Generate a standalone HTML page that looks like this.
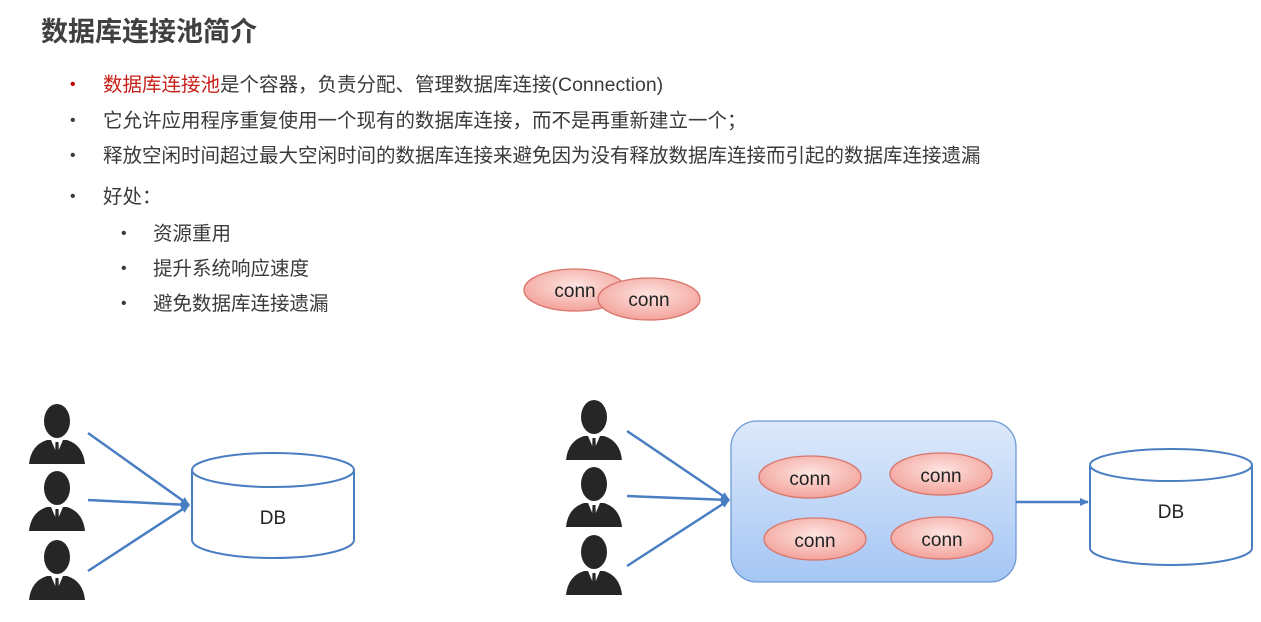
<!DOCTYPE html>
<html><head><meta charset="utf-8"><style>
html,body{margin:0;padding:0;background:#fff;}
body{width:1261px;height:622px;position:relative;overflow:hidden;font-family:"Liberation Sans","Noto Sans CJK SC",sans-serif;color:#3a3a3a;}
.t{position:absolute;white-space:nowrap;}
.title{left:41px;top:10px;font-size:27px;font-weight:bold;color:#404040;}
.b{font-size:19.5px;}
.dot{position:absolute;font-size:16px;}
svg{position:absolute;left:0;top:0;}
</style></head><body>
<div class="t title">数据库连接池简介</div>
<div class="t dot" style="left:70px;top:76px;color:#c00000">•</div>
<div class="t b" style="left:103px;top:68px"><span style="color:#c8201a">数据库连接池</span>是个容器，负责分配、管理数据库连接(Connection)</div>
<div class="t dot" style="left:70px;top:112px">•</div>
<div class="t b" style="left:103px;top:104px">它允许应用程序重复使用一个现有的数据库连接，而不是再重新建立一个；</div>
<div class="t dot" style="left:70px;top:147px">•</div>
<div class="t b" style="left:103px;top:139px">释放空闲时间超过最大空闲时间的数据库连接来避免因为没有释放数据库连接而引起的数据库连接遗漏</div>
<div class="t dot" style="left:70px;top:188px">•</div>
<div class="t b" style="left:103px;top:180px">好处：</div>
<div class="t dot" style="left:121px;top:225px">•</div>
<div class="t b" style="left:153px;top:217px">资源重用</div>
<div class="t dot" style="left:121px;top:260px">•</div>
<div class="t b" style="left:153px;top:252px">提升系统响应速度</div>
<div class="t dot" style="left:121px;top:295px">•</div>
<div class="t b" style="left:153px;top:287px">避免数据库连接遗漏</div>
<svg width="1261" height="622" viewBox="0 0 1261 622">
<defs>
<radialGradient id="pink" cx="50%" cy="40%" r="60%"><stop offset="0" stop-color="#fde4e1"/><stop offset="1" stop-color="#f3a39b"/></radialGradient>
<linearGradient id="blue" x1="0" y1="0" x2="0" y2="1"><stop offset="0" stop-color="#dde9fb"/><stop offset="1" stop-color="#a5c6f4"/></linearGradient>
<marker id="ar" markerWidth="10" markerHeight="10" refX="8" refY="5" orient="auto" markerUnits="userSpaceOnUse"><path d="M0,1 L9,5 L0,9 z" fill="#4a7ec2"/></marker>
<g id="p">
<ellipse cx="0" cy="0" rx="13" ry="17" fill="#262626"/>
<path d="M-10,19 L10,19 Q26,24 28,43 L-28,43 Q-26,24 -10,19 Z" fill="#262626"/>
<path d="M-6,19 L0,33 L6,19 Z" fill="#fff"/>
<path d="M-1.5,21 L1.5,21 L2,36 L0,39 L-2,36 Z" fill="#262626"/>
</g>
<g id="c">
<ellipse cx="0" cy="0" rx="51" ry="21" fill="url(#pink)" stroke="#d9766c" stroke-width="1.3"/>
</g>
</defs>
<g font-family="Liberation Sans, sans-serif" font-size="19" fill="#222" text-anchor="middle">
<use href="#c" x="575" y="290"/><text x="575" y="297">conn</text>
<use href="#c" x="649" y="299"/><text x="649" y="306">conn</text>
</g>
<use href="#p" x="57" y="421"/><use href="#p" x="57" y="488"/><use href="#p" x="57" y="557"/>
<g stroke="#4a7ec2" stroke-width="2.5" fill="none">
<line x1="88" y1="433" x2="189" y2="505" marker-end="url(#ar)"/>
<line x1="88" y1="500" x2="189" y2="505" marker-end="url(#ar)"/>
<line x1="88" y1="571" x2="189" y2="505" marker-end="url(#ar)"/>
</g>
<g stroke="#4a7ec2" stroke-width="2" fill="#fff">
<path d="M192,470 L192,540 A81,18 0 0 0 354,540 L354,470"/>
<ellipse cx="273" cy="470" rx="81" ry="17"/>
</g>
<text x="273" y="524" font-family="Liberation Sans, sans-serif" font-size="19" text-anchor="middle" fill="#222">DB</text>
<use href="#p" x="594" y="417"/><use href="#p" x="594" y="484"/><use href="#p" x="594" y="552"/>
<g stroke="#4a7ec2" stroke-width="2.5" fill="none">
<line x1="627" y1="431" x2="729" y2="500" marker-end="url(#ar)"/>
<line x1="627" y1="496" x2="729" y2="500" marker-end="url(#ar)"/>
<line x1="627" y1="566" x2="729" y2="500" marker-end="url(#ar)"/>
</g>
<rect x="731" y="421" width="285" height="161" rx="26" fill="url(#blue)" stroke="#6f9ad6" stroke-width="1.3"/>
<g font-family="Liberation Sans, sans-serif" font-size="19" fill="#222" text-anchor="middle">
<use href="#c" x="810" y="477"/><text x="810" y="485">conn</text>
<use href="#c" x="941" y="474"/><text x="941" y="482">conn</text>
<use href="#c" x="815" y="539"/><text x="815" y="547">conn</text>
<use href="#c" x="942" y="538"/><text x="942" y="546">conn</text>
</g>
<line x1="1016" y1="502" x2="1088" y2="502" stroke="#4a7ec2" stroke-width="2.5" marker-end="url(#ar)"/>
<g stroke="#4a7ec2" stroke-width="2" fill="#fff">
<path d="M1090,465 L1090,548 A81,17 0 0 0 1252,548 L1252,465"/>
<ellipse cx="1171" cy="465" rx="81" ry="16"/>
</g>
<text x="1171" y="518" font-family="Liberation Sans, sans-serif" font-size="19" text-anchor="middle" fill="#222">DB</text>
</svg>
</body></html>
